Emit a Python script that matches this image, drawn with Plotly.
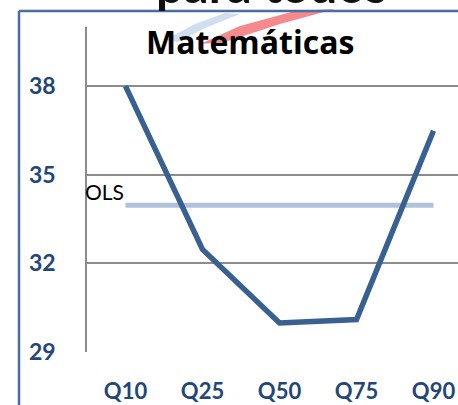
import plotly.graph_objects as go

categories = ["Q10", "Q25", "Q50", "Q75", "Q90"]
quantile_values = [38.0, 32.47, 29.98, 30.10, 36.49]
ols_value = 33.97
ols_values = [ols_value] * len(categories)
y_ticks = [29, 32, 35, 38]

BLUE = "#386192"
LIGHT = "#B0C1DA"
TICK_BLUE = "#23467A"
GRID = "#8C8C8C"
FONT = "Lato"

fig = go.Figure()
fig.add_trace(go.Scatter(x=categories, y=ols_values, mode="lines",
                         line=dict(color=LIGHT, width=5), hoverinfo="skip"))
fig.add_trace(go.Scatter(x=categories, y=quantile_values, mode="lines",
                         line=dict(color=BLUE, width=5.5), hoverinfo="skip"))

W, H = 458, 405
L, T, B = 87, 27, 53
plot_w = W - L
plot_h = H - T - B

def px_x(p):
    return (p - L) / plot_w

def px_y(p):
    return (H - B - p) / plot_h

def path(points):
    return "M " + " L ".join(f"{px_x(a):.4f},{px_y(b):.4f}" for a, b in points) + " Z"

# logo swoosh (background decoration)
fig.add_shape(type="path", xref="paper", yref="paper", layer="below",
              path=path([(200, 44), (240, 26), (295, 11), (335, 9), (280, 24), (225, 42)]),
              fillcolor="rgba(235,40,50,0.55)", line=dict(width=0))
fig.add_shape(type="path", xref="paper", yref="paper", layer="below",
              path=path([(165, 40), (195, 24), (225, 13), (240, 14), (205, 28), (178, 42)]),
              fillcolor="rgba(120,160,210,0.35)", line=dict(width=0))

# outer frame (blue border lines)
fig.add_shape(type="line", xref="paper", yref="paper",
              x0=px_x(19), x1=px_x(470), y0=px_y(11), y1=px_y(11),
              line=dict(color="#4A6EA3", width=2.5))
fig.add_shape(type="line", xref="paper", yref="paper",
              x0=px_x(19), x1=px_x(19), y0=px_y(11), y1=px_y(420),
              line=dict(color="#4A6EA3", width=2.5))

# logo fragment (cropped at the top edge, as in the reference)
fig.add_annotation(text="<b>para todos</b>", xref="paper", yref="paper",
                   x=px_x(271), y=px_y(-16), xanchor="center", yanchor="middle",
                   showarrow=False, font=dict(family=FONT, size=49, color="#111111"))

fig.add_annotation(text="<b>Matemáticas</b>", xref="paper", yref="paper",
                   x=px_x(250), y=px_y(42), xanchor="center", yanchor="middle",
                   showarrow=False, font=dict(family="Open Sans", size=32, color="#000000"))

fig.add_annotation(text="OLS", xref="x", yref="y", x=categories[0], y=ols_value + 0.45,
                   xanchor="right", yanchor="middle", xshift=0, showarrow=False,
                   font=dict(family=FONT, size=21, color="#000000"))

fig.update_layout(
    width=W, height=H,
    margin=dict(l=L, r=0, t=T, b=B),
    paper_bgcolor="white", plot_bgcolor="white",
    showlegend=False,
    font=dict(family=FONT),
)
fig.update_xaxes(type="category", range=[-0.5, -0.5 + plot_w / 77],
                 showgrid=False, zeroline=False, showline=False,
                 ticks="", ticklabelstandoff=24,
                 tickfont=dict(family=FONT, size=22, color=TICK_BLUE, weight="bold"))
fig.update_yaxes(range=[29, 40], tickvals=y_ticks,
                 showgrid=True, gridcolor=GRID, gridwidth=1.5,
                 zeroline=False, showline=True, linecolor=GRID, linewidth=1.5,
                 ticks="", ticklabelstandoff=25,
                 tickfont=dict(family=FONT, size=23, color=TICK_BLUE, weight="bold"))

fig.write_html("out.html", config={"displayModeBar": False},
               post_script="document.body.style.margin='0';document.body.style.overflow='hidden';")
